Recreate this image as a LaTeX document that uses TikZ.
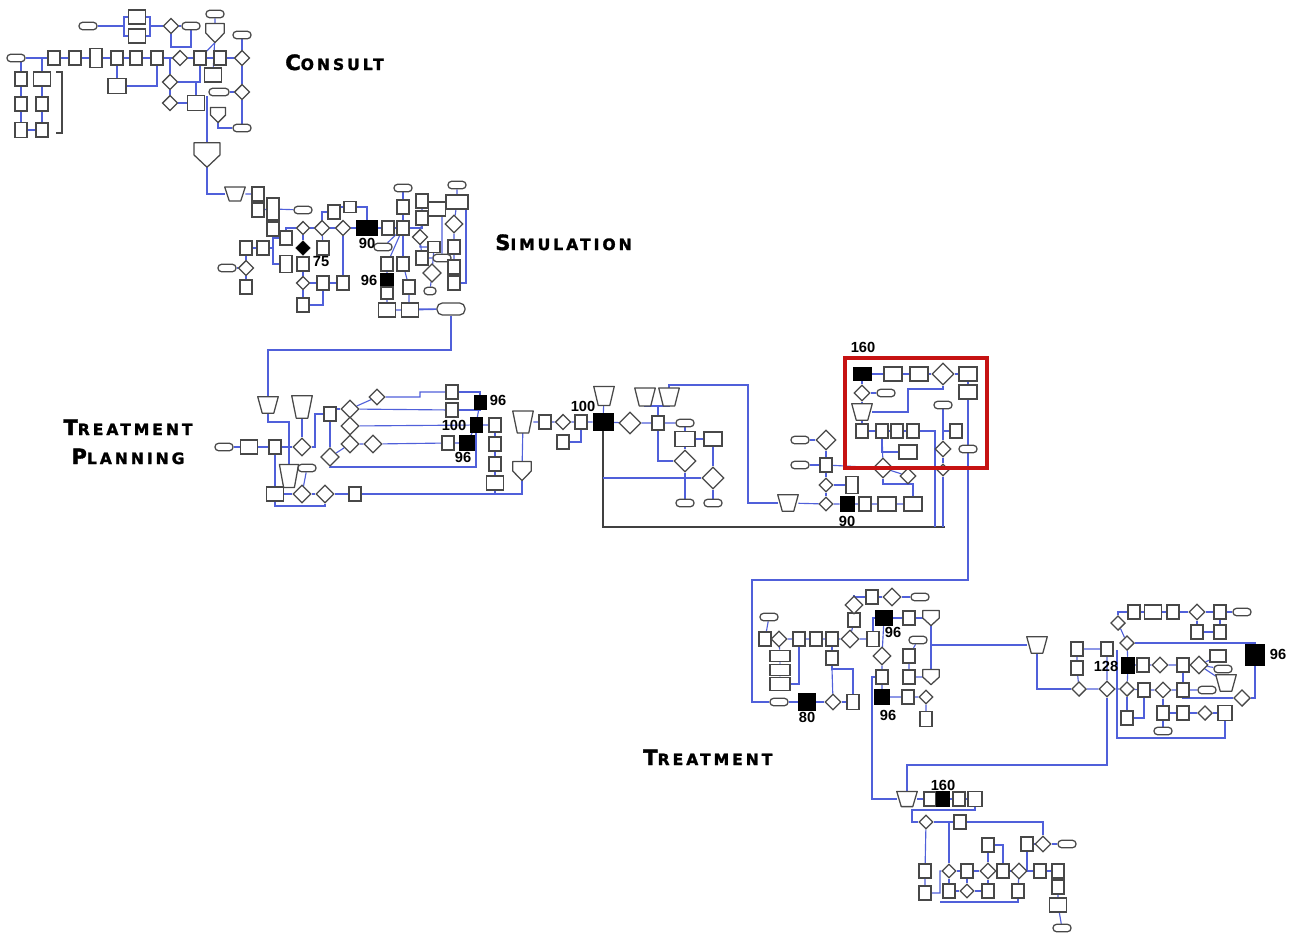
\documentclass[tikz,border=0pt]{standalone}
\usepackage{fontspec}
\setmainfont{Liberation Sans}
\newfontfamily\hdfont{DejaVu Sans}[LetterSpace=19,BoldFeatures={FakeBold=1.6}]
\usetikzlibrary{shapes.geometric,calc}
\definecolor{conn}{RGB}{80,96,218}
\definecolor{shapec}{RGB}{72,72,72}
\definecolor{redbox}{RGB}{198,18,18}
\pgfdeclarelayer{bg}
\pgfsetlayers{bg,main}
\newcommand\sect[2]{{\hdfont\bfseries\fontsize{15.8}{16}\selectfont #1}{\hdfont\bfseries\fontsize{11.7}{12}\selectfont #2}}
\tikzset{
 shp/.style={draw=shapec, line width=0.95pt, fill=white, inner sep=0pt},
 rb/.style={shp, rectangle, minimum width=9pt, minimum height=10.5pt},
 rw/.style={shp, rectangle, minimum width=12.75pt, minimum height=10.5pt},
 rt/.style={shp, rectangle, minimum width=9pt, minimum height=13pt},
 dm/.style={shp, diamond, minimum width=#1, minimum height=#1},
 dm/.default=11.5pt,
 ov/.style={shp, rectangle, rounded corners=2.6pt, minimum width=13.5pt, minimum height=5.5pt},
 tz/.style={rectangle, inner sep=0pt, minimum width=15pt, minimum height=10.5pt,
   append after command={\pgfextra{\draw[draw=shapec, line width=0.95pt, fill=white, line join=round]
   (\tikzlastnode.north west) -- (\tikzlastnode.north east)
   -- ($(\tikzlastnode.south east)!0.22!(\tikzlastnode.south west)$)
   -- ($(\tikzlastnode.south west)!0.22!(\tikzlastnode.south east)$) -- cycle;}}},
 pg/.style={rectangle, inner sep=0pt, minimum width=13.5pt, minimum height=14pt,
   append after command={\pgfextra{\draw[draw=shapec, line width=0.95pt, fill=white, line join=round]
   (\tikzlastnode.north west) -- (\tikzlastnode.north east) -- (\tikzlastnode.east)
   -- (\tikzlastnode.south) -- (\tikzlastnode.west) -- cycle;}}},
 bk/.style={draw=black, fill=black, rectangle, inner sep=0pt, minimum width=10.5pt, minimum height=11pt},
 lab/.style={font=\bfseries\fontsize{11}{11}\selectfont, inner sep=0pt},
 cn/.style={draw=conn, line width=0.85pt},
 dk/.style={draw=black!75, line width=0.9pt},
}
\begin{document}
\begin{tikzpicture}[x=0.75pt,y=-0.75pt]
\useasboundingbox (0,0) rectangle (1298,933);
% ================= CONSULT =================
\node[ov] (c0) at (16,58) {};
\node[rb] (c1) at (54,58) {};
\node[rb] (c2) at (75,58) {};
\node[rb,minimum height=14pt] (c3) at (96,58) {};
\node[rb] (c4) at (117,58) {};
\node[rb] (c5) at (136,58) {};
\node[rb] (c6) at (157,58) {};
\node[dm] (c7) at (180,58) {};
\node[rb] (c8) at (200,58) {};
\node[rb] (c9) at (220,58) {};
\node[dm] (c10) at (242,58) {};
\node[rb] (c11) at (21,79) {};
\node[rb] (c12) at (21,104) {};
\node[rb,minimum height=11.5pt] (c13) at (21,130) {};
\node[rw] (c14) at (42,79) {};
\node[rb] (c15) at (42,104) {};
\node[rb] (c16) at (42,130) {};
\node[rw,minimum width=13.5pt,minimum height=11pt] (c17) at (117,86) {};
\node[ov] (c18) at (88,26) {};
\node[rw] (c19) at (137,17) {};
\node[rw] (c20) at (137,36) {};
\node[dm] (c21) at (171,26) {};
\node[ov] (c22) at (191,26) {};
\node[ov] (c23) at (215,14) {};
\node[pg] (c24) at (215,33) {};
\node[ov] (c25) at (242,35) {};
\node[rw] (c26) at (213,75) {};
\node[ov,minimum width=15pt] (c27) at (219,92) {};
\node[dm] (c28) at (242,92) {};
\node[dm] (c29) at (170,82) {};
\node[dm] (c30) at (170,103) {};
\node[rw,minimum height=11pt] (c31) at (196,103) {};
\node[pg,minimum width=11pt,minimum height=11pt] (c32) at (218,115) {};
\node[ov] (c33) at (242,128) {};
\node[pg,minimum width=19pt,minimum height=18pt] (c34) at (207,155) {};
\draw[shapec,line width=0.95pt] (56,72) -- (62,72) -- (62,133) -- (56,133);
\coordinate (cj1) at (124,26);
\coordinate (cj2) at (150,26);
\coordinate (cj3) at (171,47);
\coordinate (cj4) at (191,47);
% ================= SIMULATION =================
\node[tz,minimum height=10pt] (s1) at (235,194) {};
\node[rb] (s2) at (258,194) {};
\node[rb] (s3) at (258,210) {};
\node[rb,minimum height=16.5pt] (s4) at (273,209) {};
\node[rb] (s5) at (273,229) {};
\node[rb] (s6) at (286,238) {};
\node[ov] (s7) at (303,210) {};
\node[rt] (s8) at (286,264) {};
\node[rb] (s9) at (246,248) {};
\node[rb] (s10) at (263,248) {};
\node[ov] (s11) at (227,268) {};
\node[dm] (s12) at (246,268) {};
\node[rb] (s13) at (246,287) {};
\node[dm=10pt] (s14) at (303,228) {};
\node[diamond,fill=black,draw=black,inner sep=0pt,minimum width=11pt,minimum height=11pt] (s15) at (303,248) {};
\node[rb] (s16) at (303,264) {};
\node[dm=10pt] (s17) at (303,283) {};
\node[rb] (s18) at (303,305) {};
\node[rb] (s19) at (323,248) {};
\node[dm] (s20) at (322,228) {};
\node[rb] (s21) at (334,212) {};
\node[rb,minimum height=8pt] (s22) at (350,207) {};
\node[dm] (s23) at (343,228) {};
\node[bk,minimum width=16pt] (s24) at (367,228) {};
\node[rb] (s25) at (323,283) {};
\node[rb] (s26) at (343,283) {};
\node[rb] (s27) at (388,228) {};
\node[rb] (s28) at (403,228) {};
\node[ov] (s29) at (403,188) {};
\node[rb] (s30) at (403,207) {};
\node[ov] (s31) at (383,247) {};
\node[rb] (s32) at (387,264) {};
\node[bk,minimum width=9.5pt,minimum height=9.5pt] (s33) at (387,280) {};
\node[rb,minimum height=9pt] (s34) at (387,293) {};
\node[rw] (s35) at (387,310) {};
\node[rw] (s36) at (410,310) {};
\node[ov,minimum width=21pt,minimum height=9pt,rounded corners=4pt] (s37) at (451,309) {};
\node[rb] (s38) at (403,264) {};
\node[rb] (s39) at (409,287) {};
\node[rb] (s40) at (422,201) {};
\node[rw] (s41) at (437,209) {};
\node[rb] (s42) at (422,218) {};
\node[dm] (s43) at (420,237) {};
\node[rb,minimum height=8pt] (s44) at (434,247) {};
\node[rb] (s45) at (422,258) {};
\node[ov] (s46) at (442,258) {};
\node[dm=14pt] (s47) at (432,273) {};
\node[ov,minimum width=9pt] (s48) at (430,291) {};
\node[ov] (s49) at (457,185) {};
\node[rw,minimum width=16.5pt] (s50) at (457,202) {};
\node[dm=13.5pt] (s51) at (454,224) {};
\node[rb] (s52) at (454,247) {};
\node[rb] (s53) at (454,267) {};
\node[rb] (s54) at (454,283) {};
\coordinate (sj1) at (466,202);
\coordinate (sj2) at (268,350);
% ================= TREATMENT PLANNING =================
\node[tz,minimum height=12pt] (p1) at (268,405) {};
\node[tz,minimum height=16.5pt] (p2) at (302,407) {};
\node[ov] (p3) at (224,447) {};
\node[rw] (p4) at (249,447) {};
\node[rb] (p5) at (275,447) {};
\node[dm=13.5pt] (p6) at (302,447) {};
\node[rb] (p7) at (330,414) {};
\node[dm=13.5pt] (p8) at (350,409) {};
\node[dm=12pt] (p9) at (377,397) {};
\node[dm=13.5pt] (p10) at (350,426) {};
\node[dm=13.5pt] (p11) at (350,444) {};
\node[dm=13.5pt] (p12) at (373,444) {};
\node[dm=14pt] (p13) at (330,457) {};
\node[rb] (p14) at (452,392) {};
\node[rb] (p15) at (452,410) {};
\node[bk,minimum width=9pt,minimum height=10.5pt] (p16) at (480,402) {};
\node[bk,minimum width=9pt,minimum height=11pt] (p17) at (476,425) {};
\node[rb] (p18) at (448,443) {};
\node[bk,minimum width=11pt,minimum height=11pt] (p19) at (467,443) {};
\node[rb] (p20) at (495,425) {};
\node[rb] (p21) at (495,444) {};
\node[rb] (p22) at (495,464) {};
\node[rw] (p23) at (495,483) {};
\node[tz,minimum height=17pt,minimum width=14pt] (p24) at (289,476) {};
\node[ov] (p25) at (307,468) {};
\node[rw] (p26) at (275,494) {};
\node[dm=13.5pt] (p27) at (302,494) {};
\node[dm=13.5pt] (p28) at (325,494) {};
\node[rb] (p29) at (355,494) {};
\node[tz,minimum height=16pt] (p30) at (523,422) {};
\node[pg] (p31) at (522,471) {};
\coordinate (pa) at (289,422);
\coordinate (pb) at (505,494);
\coordinate (pc) at (476,467);
\coordinate (pd) at (315,447);
\coordinate (pe) at (420,397);
\coordinate (pf) at (275,506);
\coordinate (pg1) at (325,506);
% ================= MIDDLE =================
\node[rb] (m1) at (545,422) {};
\node[dm] (m2) at (563,422) {};
\node[rb] (m3) at (581,422) {};
\node[rb] (m4) at (563,442) {};
\node[bk,minimum width=15pt,minimum height=13pt] (m5) at (603,422) {};
\node[tz,minimum height=14pt] (m6) at (604,396) {};
\node[dm=16.5pt] (m7) at (630,423) {};
\node[rb] (m8) at (658,423) {};
\node[ov] (m9) at (685,423) {};
\node[tz,minimum height=13pt] (m10) at (645,397) {};
\node[tz,minimum height=13pt] (m11) at (669,397) {};
\node[rw,minimum width=15pt,minimum height=11pt] (m12) at (685,439) {};
\node[rw,minimum width=13.5pt] (m13) at (713,439) {};
\node[dm=16.5pt] (m14) at (685,461) {};
\node[dm=16.5pt] (m15) at (713,478) {};
\node[ov] (m16) at (685,503) {};
\node[ov] (m17) at (713,503) {};
\node[tz,minimum height=12pt] (m18) at (788,503) {};
\coordinate (mj1) at (658,406);
\coordinate (mb) at (603,527);
\coordinate (ml) at (945,527);
\coordinate (mc) at (603,478);
\coordinate (mtA) at (669,385);
\coordinate (mtB) at (748,385);
\coordinate (mtC) at (748,503);
% ================= RED BOX AREA =================
\node[bk,minimum width=13.5pt,minimum height=10pt] (r1) at (862,374) {};
\node[rw,minimum width=13.5pt] (r2) at (893,374) {};
\node[rw,minimum width=13.5pt] (r3) at (919,374) {};
\node[dm=16.5pt] (r4) at (943,374) {};
\node[rw,minimum width=13.5pt] (r5) at (968,374) {};
\node[rw,minimum width=13.5pt] (r6) at (968,392) {};
\node[dm=12pt] (r7) at (862,393) {};
\node[ov] (r8) at (886,393) {};
\node[tz,minimum height=12pt] (r9) at (862,412) {};
\node[ov] (r10) at (943,405) {};
\node[rb] (r11) at (862,431) {};
\node[rb] (r12) at (882,431) {};
\node[rb] (r13) at (897,431) {};
\node[rb] (r14) at (913,431) {};
\node[rb] (r15) at (956,431) {};
\node[rw,minimum width=13.5pt] (r16) at (908,452) {};
\node[dm=12pt] (r17) at (943,449) {};
\node[ov] (r18) at (968,449) {};
\node[dm=15pt] (r19) at (883,468) {};
\node[dm=12pt] (r20) at (908,476) {};
\node[dm=9pt] (r21) at (943,470) {};
\node[ov] (r22) at (800,440) {};
\node[dm=15pt] (r23) at (826,440) {};
\node[ov] (r24) at (800,465) {};
\node[rb] (r25) at (826,465) {};
\node[dm=10.5pt] (r26) at (826,485) {};
\node[rb,minimum height=12.5pt] (r27) at (852,485) {};
\node[dm=10.5pt] (r28) at (826,504) {};
\node[bk,minimum width=10.5pt,minimum height=11pt] (r29) at (847,504) {};
\node[rb] (r30) at (865,504) {};
\node[rw,minimum width=13.5pt] (r31) at (887,504) {};
\node[rw,minimum width=13.5pt] (r32) at (913,504) {};
\coordinate (rA) at (908,412);
\coordinate (rB) at (908,389);
\coordinate (rC) at (913,484);
\coordinate (rD) at (943,527);
\coordinate (rE) at (935,527);
\coordinate (rF) at (935,472);
% ================= TREATMENT =================
\node[ov] (t1) at (779,702) {};
\node[bk,minimum width=12.5pt,minimum height=12.5pt] (t2) at (807,702) {};
\node[dm=12pt] (t3) at (833,702) {};
\node[rb,minimum height=11pt] (t4) at (853,702) {};
\node[ov] (t5) at (769,617) {};
\node[rb] (t6) at (765,639) {};
\node[dm=12pt] (t7) at (779,639) {};
\node[rb] (t8) at (799,639) {};
\node[rb] (t9) at (816,639) {};
\node[rb] (t10) at (832,639) {};
\node[dm=13.5pt] (t11) at (850,639) {};
\node[rb] (t12) at (854,620) {};
\node[dm=13.5pt] (t13) at (854,605) {};
\node[rb] (t14) at (872,597) {};
\node[dm=13.5pt] (t15) at (892,597) {};
\node[ov] (t16) at (920,597) {};
\node[rw,minimum width=15pt,minimum height=8.5pt] (t17) at (780,656) {};
\node[rw,minimum width=15pt,minimum height=8.5pt] (t18) at (780,670) {};
\node[rw,minimum width=15pt,minimum height=10pt] (t19) at (780,684) {};
\node[rb] (t20) at (832,658) {};
\node[bk,minimum width=12.5pt,minimum height=11pt] (t21) at (884,618) {};
\node[rb] (t22) at (909,618) {};
\node[pg,minimum width=12pt,minimum height=11pt] (t23) at (931,618) {};
\node[rb,minimum height=11pt] (t24) at (873,639) {};
\node[dm=13.5pt] (t25) at (882,656) {};
\node[rb] (t26) at (882,677) {};
\node[bk,minimum width=11pt,minimum height=11pt] (t27) at (882,697) {};
\node[rb] (t28) at (908,697) {};
\node[dm=10.5pt] (t29) at (926,697) {};
\node[rb,minimum height=11pt] (t30) at (926,719) {};
\node[ov] (t31) at (918,640) {};
\node[rb] (t32) at (909,656) {};
\node[rb] (t33) at (909,677) {};
\node[pg,minimum width=12pt,minimum height=11pt] (t34) at (931,677) {};
\node[tz,minimum height=12pt] (t35) at (1037,645) {};
\coordinate (ta) at (968,580);
\coordinate (tb) at (752,580);
\coordinate (tc) at (752,702);
\coordinate (td) at (931,645);
\coordinate (te) at (832,669);
\coordinate (tf) at (872,799);
\coordinate (tg) at (853,669);
% right block
\node[rb] (tr1) at (1077,649) {};
\node[rb] (tr2) at (1077,668) {};
\node[rb] (tr3) at (1107,649) {};
\node[dm=11pt] (tr4) at (1079,689) {};
\node[dm=12pt] (tr5) at (1107,689) {};
\node[dm=11pt] (tr6) at (1127,689) {};
\node[bk,minimum width=10pt,minimum height=12pt] (tr7) at (1128,665) {};
\node[rb] (tr8) at (1143,665) {};
\node[dm=12pt] (tr9) at (1160,665) {};
\node[rb] (tr10) at (1183,665) {};
\node[dm=13.5pt] (tr11) at (1199,665) {};
\node[rw,minimum width=12pt,minimum height=9pt] (tr12) at (1218,656) {};
\node[ov] (tr13) at (1223,669) {};
\node[tz,minimum height=12pt] (tr14) at (1226,683) {};
\node[bk,minimum width=14pt,minimum height=16pt] (tr15) at (1255,655) {};
\node[dm=11pt] (tr16) at (1118,623) {};
\node[dm=11pt] (tr17) at (1127,643) {};
\node[rb] (tr18) at (1134,612) {};
\node[rw] (tr19) at (1153,612) {};
\node[rb] (tr20) at (1173,612) {};
\node[dm=12pt] (tr21) at (1197,612) {};
\node[rb] (tr22) at (1220,612) {};
\node[ov] (tr23) at (1242,612) {};
\node[rb] (tr24) at (1197,632) {};
\node[rb] (tr25) at (1220,632) {};
\node[rb] (tr26) at (1144,690) {};
\node[dm=12pt] (tr27) at (1163,690) {};
\node[rb] (tr28) at (1183,690) {};
\node[ov] (tr29) at (1207,690) {};
\node[dm=12.5pt] (tr30) at (1242,698) {};
\node[rb] (tr31) at (1127,718) {};
\node[rb] (tr32) at (1163,713) {};
\node[rb] (tr33) at (1183,713) {};
\node[dm=11pt] (tr34) at (1205,713) {};
\node[rb,minimum width=10.5pt,minimum height=11pt] (tr35) at (1225,713) {};
\node[ov] (tr36) at (1163,731) {};
\coordinate (tr37) at (1037,689);
\coordinate (tr38) at (1117,738);
\coordinate (tr39) at (1117,650);
\coordinate (tr40) at (1107,765);
\coordinate (tr41) at (907,765);
% bottom block
\node[tz,minimum height=11pt] (b1) at (907,799) {};
\node[rb] (b2) at (930,799) {};
\node[bk,minimum width=9.5pt,minimum height=11pt] (b3) at (943,799) {};
\node[rb] (b4) at (959,799) {};
\node[rb,minimum width=10.5pt,minimum height=11pt] (b5) at (975,799) {};
\node[dm=10.5pt] (b6) at (926,822) {};
\node[rb] (b7) at (960,822) {};
\node[dm=12pt] (b8) at (1043,844) {};
\node[rb] (b9) at (1027,844) {};
\node[ov] (b10) at (1067,844) {};
\node[rb] (b11) at (988,845) {};
\node[rb] (b12) at (925,871) {};
\node[rb] (b13) at (925,893) {};
\node[dm=10.5pt] (b14) at (949,871) {};
\node[rb] (b15) at (967,871) {};
\node[dm=12pt] (b16) at (988,871) {};
\node[rb] (b17) at (1003,871) {};
\node[dm=12pt] (b18) at (1019,871) {};
\node[rb] (b19) at (1040,871) {};
\node[rb] (b20) at (1058,871) {};
\node[rb] (b21) at (949,891) {};
\node[dm=10.5pt] (b22) at (967,891) {};
\node[rb] (b23) at (988,891) {};
\node[rb] (b24) at (1018,891) {};
\node[rb] (b25) at (1058,887) {};
\node[rw] (b26) at (1058,905) {};
\node[ov] (b27) at (1062,928) {};
\coordinate (bA) at (912,810);
\coordinate (bB) at (940,893);
\coordinate (bC) at (940,902);
\coordinate (bD) at (1018,902);
% ================= RED BOX =================
\draw[redbox,line width=3pt] (845,358) rectangle (987,468);
% ================= LABELS =================
\node[lab] (l75) at (321,262) {75};
\node[lab] (l90a) at (367,243) {90};
\node[lab] (l96a) at (369,280) {96};
\node[lab] (l96b) at (498,400) {96};
\node[lab] (l100a) at (454,425) {100};
\node[lab] (l96c) at (463,457) {96};
\node[lab] (l100b) at (583,406) {100};
\node[lab] (l160a) at (863,347) {160};
\node[lab] (l90b) at (847,521) {90};
\node[lab] (l96d) at (893,632) {96};
\node[lab] (l80) at (807,717) {80};
\node[lab] (l96e) at (888,715) {96};
\node[lab] (l128) at (1106,666) {128};
\node[lab] (l96f) at (1278,654) {96};
\node[lab] (l160b) at (943,785) {160};
\node[anchor=base west,inner sep=0pt] (hc) at (285,70) {\sect{C}{ONSULT}};
\node[anchor=base west,inner sep=0pt] (hs) at (495,250) {\sect{S}{IMULATION}};
\node[anchor=base,inner sep=0pt] (ht1) at (128,435) {\sect{T}{REATMENT}};
\node[anchor=base,inner sep=0pt] (ht2) at (128,464) {\sect{P}{LANNING}};
\node[anchor=base west,inner sep=0pt] (ht3) at (643,765) {\sect{T}{REATMENT}};
% ================= CONNECTORS =================
\begin{pgfonlayer}{bg}
% consult
\draw[cn] (c0)--(c1)--(c2)--(c3)--(c4)--(c5)--(c6)--(c7)--(c8)--(c9)--(c10);
\draw[cn] (c11 |- c0) -- (c11) -- (c12) -- (c13) -- (c16) -- (c15) -- (c14) -- (c14 |- c0);
\draw[cn] (c4) -- (c17) -| (c6);
\draw[cn] (c18) -- (cj1);
\draw[cn] (cj1) |- (c19);
\draw[cn] (cj1) |- (c20);
\draw[cn] (c19) -| (cj2);
\draw[cn] (c20) -| (cj2);
\draw[cn] (cj2) -- (c21) -- (c22);
\draw[cn] (c21) -- (cj3) -- (cj4) -- (c22);
\draw[cn] (c23) -- (c24) -- (c26);
\draw[cn] (c24.south) -- (c8);
\draw[cn] (c25) -- (c10) -- (c28) -- (c33);
\draw[cn] (c27) -- (c28);
\draw[cn] (c29 |- c7) -- (c29) -- (c30) -- (c31);
\draw[cn] (c29) -| (c8);
\draw[cn] (c31) -- (c31 |- c29);
\draw[cn] (c34) -- (c34 |- c27.south);
\draw[cn] (c32) |- (c33);
\draw[cn] (c34) |- (s1);
% simulation
\draw[cn] (s1)--(s2)--(s3)--(s4)--(s7);
\draw[cn] (s4)--(s5) |- (s6);
\draw[cn] (s6) |- (s14);
\draw[cn] (s9)--(s10) -| (s5);
\draw[cn] (s8) -| (s5);
\draw[cn] (s9)--(s12)--(s13);
\draw[cn] (s11)--(s12);
\draw[cn] (s14)--(s15)--(s16)--(s17)--(s18);
\draw[cn] (s17)--(s25)--(s26)--(s23);
\draw[cn] (s18) -| (s25);
\draw[cn] (s14)--(s20)--(s23)--(s24)--(s27)--(s28);
\draw[cn] (s20)--(s19);
\draw[cn] (s20) |- (s21);
\draw[cn] (s21) |- (s22) -| (s24);
\draw[cn] (s29)--(s30)--(s28);
\draw[cn] (s28)--(s31);
\draw[cn] (s28)--(s32);
\draw[cn] (s28)--(s38);
\draw[cn] (s28) -| (s42);
\draw[cn] (s32)--(s33)--(s34)--(s35)--(s36)--(s37);
\draw[cn] (s38)--(s39) |- (s37);
\draw[cn] (s40)--(s42)--(s43)--(s45)--(s46);
\draw[cn] (s40)--(s41) -| (s46);
\draw[cn] (s43) |- (s44) -- (s47) -- (s48);
\draw[cn] (s49)--(s50)--(s51)--(s52)--(s53)--(s54);
\draw[cn] (s50) -- (sj1) |- (s54);
\draw[cn] (s37) |- (sj2) -- (p1);
% treatment planning
\draw[cn] (p1) |- (pa) -- (p24);
\draw[cn] (p2) -- (p6);
\draw[cn] (p3)--(p4)--(p5)--(p6)--(pd) |- (p7);
\draw[cn] (p5)--(p26)--(p27)--(p28)--(p29);
\draw[cn] (p26) -- (pf) -- (pg1) -- (p28);
\draw[cn] (p29) -- (pb);
\draw[cn] (p23) |- (pb) -| (p31);
\draw[cn] (p31) -- (p30) -- (m1);
\draw[cn] (p7)--(p13);
\draw[cn] (p13)--(p11)--(p12)--(p18)--(p19);
\draw[cn] (p7) |- (p8);
\draw[cn] (p8)--(p10)--(p11);
\draw[cn] (p8)--(p9)--(pe) |- (p14);
\draw[cn] (p8)--(p15);
\draw[cn] (p10)--(p17)--(p20);
\draw[cn] (p14) -| (p16);
\draw[cn] (p15) -| (p16);
\draw[cn] (p17)--(p16);
\draw[cn] (p19)--(p17);
\draw[cn] (p13) |- (pc) -- (p17);
\draw[cn] (p20)--(p21)--(p22)--(p23);
\draw[cn] (p25)--(p27);
\draw[cn] (p24)--(p26);
% middle
\draw[cn] (m1)--(m2)--(m3)--(m5)--(m7)--(m8)--(m9);
\draw[cn] (m4) -| (m3);
\draw[cn] (m6)--(m5);
\draw[cn] (m10) |- (mj1);
\draw[cn] (m11) |- (mj1);
\draw[cn] (mj1) -- (m8);
\draw[cn] (m8) |- (m14);
\draw[cn] (m9)--(m12)--(m13)--(m15)--(m17);
\draw[cn] (m12)--(m14)--(m16);
\draw[dk] (m5) -- (mb) -- (ml);
\draw[cn] (mc) -- (m15);
\draw[cn] (m11) -- (mtA) -- (mtB) -- (mtC) -- (m18);
% red box area
\draw[cn] (r1)--(r2)--(r3)--(r4)--(r5)--(r6)--(r18);
\draw[cn] (r1)--(r7)--(r9)--(r11)--(r12)--(r13)--(r14);
\draw[cn] (r7)--(r8);
\draw[cn] (r9)--(rA)--(rB) -| (r4);
\draw[cn] (r10)--(r17)--(r21)--(rD);
\draw[cn] (r15) -- (r15 -| r10);
\draw[cn] (r12) |- (r16);
\draw[cn] (r12)--(r19)--(r20);
\draw[cn] (r19) |- (rC) -- (r32);
\draw[cn] (r14) -| (rF) -- (rE);
\draw[cn] (r22)--(r23)--(r25)--(r26)--(r28);
\draw[cn] (r24)--(r25);
\draw[cn] (r26)--(r27);
\draw[cn] (m18)--(r28)--(r29)--(r30)--(r31)--(r32);
\draw[cn] (r25) -- (r19);
\draw[cn] (r18) -- (ta) -- (tb) -- (tc) -- (t1);
% treatment
\draw[cn] (t1)--(t2)--(t3)--(t4);
\draw[cn] (t5)--(t6)--(t7)--(t8)--(t9)--(t10)--(t11)--(t24);
\draw[cn] (t7)--(t17)--(t18)--(t19);
\draw[cn] (t19) -| (t8);
\draw[cn] (t10)--(t20)--(te)--(tg)--(t4);
\draw[cn] (t3)--(te);
\draw[cn] (t11)--(t12)--(t13);
\draw[cn] (t13) |- (t14);
\draw[cn] (t14)--(t15)--(t16);
\draw[cn] (t24) |- (t21);
\draw[cn] (t21)--(t22)--(t23)--(t34);
\draw[cn] (t21)--(t25)--(t26)--(t27)--(t28)--(t29)--(t30);
\draw[cn] (t31)--(t32)--(t33)--(t34);
\draw[cn] (td) -- (t35) -- (tr37) -- (tr4);
\draw[cn] (t26.west) -| (tf) -- (b1);
\draw[cn] (tr4)--(tr2)--(tr1)--(tr3)--(tr5);
\draw[cn] (tr4)--(tr5)--(tr6)--(tr26)--(tr27)--(tr28)--(tr29);
\draw[cn] (tr5) -- (tr40) -- (tr41) -- (b1);
\draw[cn] (tr6)--(tr7)--(tr17)--(tr16);
\draw[cn] (tr6)--(tr31);
\draw[cn] (tr31) -| (tr26);
\draw[cn] (tr7)--(tr8)--(tr9)--(tr10)--(tr11)--(tr12);
\draw[cn] (tr11)--(tr13);
\draw[cn] (tr11)--(tr14);
\draw[cn] (tr16) |- (tr18);
\draw[cn] (tr18)--(tr19)--(tr20)--(tr21)--(tr22)--(tr23);
\draw[cn] (tr21)--(tr24)--(tr25)--(tr22);
\draw[cn] (tr17) -| (tr15);
\draw[cn] (tr15) |- (tr30);
\draw[cn] (tr27)--(tr32)--(tr36);
\draw[cn] (tr32)--(tr33)--(tr34)--(tr35);
\draw[cn] (tr35) |- (tr38) -- (tr39);
\draw[cn] (tr10) |- (tr30);
% bottom
\draw[cn] (b1)--(b2)--(b3)--(b4)--(b5);
\draw[cn] (b5) |- (bA) |- (b6);
\draw[cn] (b6)--(b7) -| (b8);
\draw[cn] (b8)--(b9);
\draw[cn] (b8)--(b10);
\draw[cn] (b6)--(b12)--(b13)--(bB) |- (b14);
\draw[cn] (b14) -- (b14 |- b6);
\draw[cn] (b14)--(b15)--(b16)--(b17)--(b18)--(b19)--(b20);
\draw[cn] (b14)--(b21)--(b22)--(b23);
\draw[cn] (b15)--(b22);
\draw[cn] (b11)--(b16)--(b23);
\draw[cn] (b11) -| (b17);
\draw[cn] (b18)--(b24);
\draw[cn] (b9) |- (b18);
\draw[cn] (b20)--(b25)--(b26)--(b27);
\draw[cn] (bC)--(bD)--(b24);
\end{pgfonlayer}
\end{tikzpicture}
\end{document}
